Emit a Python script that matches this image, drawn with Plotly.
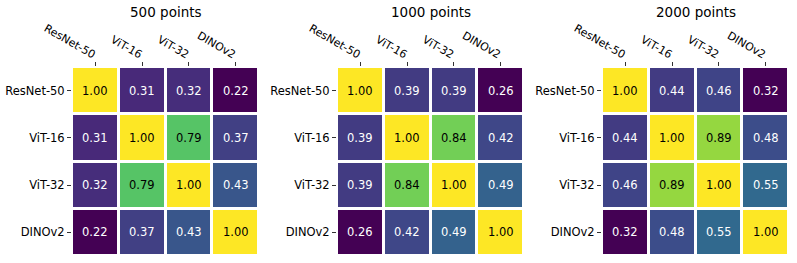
import plotly.graph_objects as go

models = ["ResNet-50", "ViT-16", "ViT-32", "DINOv2"]
panel_titles = ["500 points", "1000 points", "2000 points"]

sim_500 = [
    [1.00, 0.31, 0.32, 0.22],
    [0.31, 1.00, 0.79, 0.37],
    [0.32, 0.79, 1.00, 0.43],
    [0.22, 0.37, 0.43, 1.00],
]
sim_1000 = [
    [1.00, 0.39, 0.39, 0.26],
    [0.39, 1.00, 0.84, 0.42],
    [0.39, 0.84, 1.00, 0.49],
    [0.26, 0.42, 0.49, 1.00],
]
sim_2000 = [
    [1.00, 0.44, 0.46, 0.32],
    [0.44, 1.00, 0.89, 0.48],
    [0.46, 0.89, 1.00, 0.55],
    [0.32, 0.48, 0.55, 1.00],
]
panels = [sim_500, sim_1000, sim_2000]

W, H = 797, 263
x_px = [(72, 259), (337, 524), (602, 789)]
y_dom = [1 - 256 / H, 1 - 67 / H]
FONT = "DejaVu Sans"

fig = go.Figure()
annotations = []
for i, (mat, title) in enumerate(zip(panels, panel_titles)):
    n = i + 1
    xa = "x" if n == 1 else f"x{n}"
    ya = "y" if n == 1 else f"y{n}"
    flat = [v for row in mat for v in row]
    zmin, zmax = min(flat), max(flat)
    fig.add_trace(go.Heatmap(
        z=mat, x=models, y=models, xaxis=xa, yaxis=ya,
        colorscale="Viridis", zmin=zmin, zmax=zmax, showscale=False,
        xgap=3, ygap=3, hoverinfo="skip",
    ))
    for r, rname in enumerate(models):
        for c, cname in enumerate(models):
            v = mat[r][c]
            norm = (v - zmin) / (zmax - zmin)
            annotations.append(dict(
                x=cname, y=rname, xref=xa, yref=ya, text=f"{v:.2f}",
                showarrow=False,
                font=dict(family=FONT, size=11.5, color="black" if norm > 0.5 else "white"),
            ))
    d0, d1 = x_px[i][0] / W, x_px[i][1] / W
    axis_common = dict(
        ticks="outside", ticklen=4, tickwidth=1, tickcolor="#333",
        showgrid=False, zeroline=False, showline=False, automargin=False,
    )
    fig.layout[f"xaxis{'' if n == 1 else n}"] = dict(
        domain=[d0, d1], side="top", tickangle=30, anchor=ya, ticklabelstandoff=-2,
        tickfont=dict(family=FONT, size=11, color="black"), **axis_common)
    fig.layout[f"yaxis{'' if n == 1 else n}"] = dict(
        domain=y_dom, autorange="reversed", anchor=xa,
        tickfont=dict(family=FONT, size=11.5, color="black"), **axis_common)
    annotations.append(dict(
        x=(d0 + d1) / 2, y=1 - 12 / H, xref="paper", yref="paper",
        text=title, showarrow=False, xanchor="center", yanchor="middle",
        font=dict(family=FONT, size=13.5, color="black"),
    ))

fig.update_layout(
    width=W, height=H, margin=dict(l=0, r=0, t=0, b=0),
    paper_bgcolor="white", plot_bgcolor="white",
    annotations=annotations,
)
fig.write_html(
    "out.html",
    config={"displayModeBar": False},
    post_script="document.body.style.margin='0';document.body.style.overflow='hidden';",
)
